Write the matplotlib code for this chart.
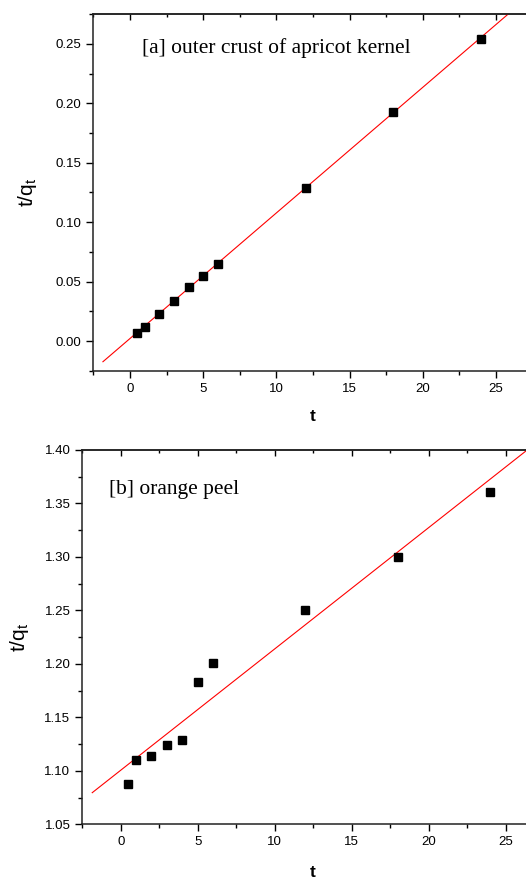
import matplotlib
matplotlib.use('Agg')
import matplotlib.pyplot as plt
import numpy as np
from matplotlib.ticker import MultipleLocator

plt.rcParams['font.family'] = ['Liberation Sans', 'DejaVu Sans']
plt.rcParams['mathtext.default'] = 'regular'

# data
t = [0.5, 1, 2, 3, 4, 5, 6, 12, 18, 24]
tq_apricot = [0.0067, 0.0118, 0.023, 0.034, 0.0454, 0.0546, 0.065, 0.129, 0.1924, 0.2543]
tq_orange = [1.0877, 1.1099, 1.1139, 1.1245, 1.1292, 1.1834, 1.2009, 1.2501, 1.300, 1.3602]

# linear fits (slope, intercept) as drawn
fit_apricot = [0.01055, 0.0023]
fit_orange = [0.01134, 1.1005]
fit_t = [-1.85, 27.5]

label_a = '[a] outer crust of apricot kernel'
label_b = '[b] orange peel'


def style_axes(ax, ymajor, yminor, ypad, xpad):
    for s in ax.spines.values():
        s.set_linewidth(1.1)
        s.set_color('#222222')
    ax.xaxis.set_major_locator(MultipleLocator(5))
    ax.xaxis.set_minor_locator(MultipleLocator(2.5))
    ax.yaxis.set_major_locator(MultipleLocator(ymajor))
    ax.yaxis.set_minor_locator(MultipleLocator(yminor))
    ax.tick_params(which='major', direction='out', length=5, width=1, labelsize=9.5,
                   pad=3.5, top=False, right=False)
    ax.tick_params(which='minor', direction='out', length=3, width=1, top=False, right=False)
    sec = ax.secondary_xaxis('top')
    sec.xaxis.set_major_locator(MultipleLocator(5))
    sec.xaxis.set_minor_locator(MultipleLocator(2.5))
    sec.tick_params(which='major', direction='in', length=4.5, width=1, labeltop=False)
    sec.tick_params(which='minor', direction='in', length=2.5, width=1)
    sec.spines['top'].set_linewidth(1.1)
    sec.spines['top'].set_color('#222222')
    ax.set_xlabel('t', fontsize=12.5, fontweight='bold', labelpad=xpad)
    ax.set_ylabel('t/q$_t$', fontsize=15, labelpad=ypad)


fig = plt.figure(figsize=(5.26, 8.81), dpi=100)

ax1 = fig.add_axes([0.1776, 0.5789, 0.8346, 0.4052])
ax1.set_xlim(-2.5, 27.5)
ax1.set_ylim(-0.025, 0.275)
xf = np.array(fit_t)
ax1.plot(xf, fit_apricot[0] * xf + fit_apricot[1], color='red', lw=0.8)
ax1.plot(t, tq_apricot, 's', color='black', markersize=5.3)
style_axes(ax1, 0.05, 0.025, 12, 10)
ax1.yaxis.set_major_formatter(plt.FormatStrFormatter('%.2f'))
ax1.text(0.8, 0.2466, label_a, fontsize=15.5, family='Liberation Serif', va='center', ha='left')

ax2 = fig.add_axes([0.1563, 0.0644, 0.878, 0.4249])
ax2.set_xlim(-2.5, 27.5)
ax2.set_ylim(1.05, 1.40)
ax2.plot(xf, fit_orange[0] * xf + fit_orange[1], color='red', lw=0.8)
ax2.plot(t, tq_orange, 's', color='black', markersize=5.3)
style_axes(ax2, 0.05, 0.025, 10, 12)
ax2.yaxis.set_major_formatter(plt.FormatStrFormatter('%.2f'))
ax2.text(-0.76, 1.3626, label_b, fontsize=15.5, family='Liberation Serif', va='center', ha='left')

fig.savefig('out.png', dpi=100)
